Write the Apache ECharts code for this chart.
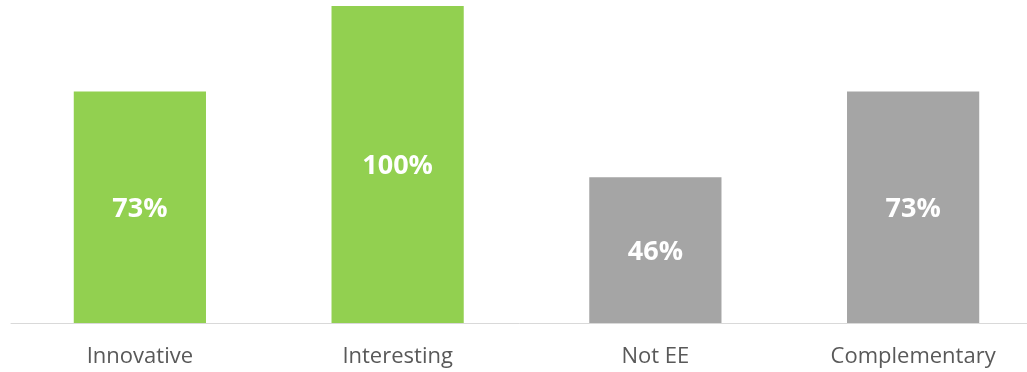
<!DOCTYPE html>
<html>
<head>
<meta charset="utf-8">
<script src="https://cdn.jsdelivr.net/npm/echarts@6/dist/echarts.min.js"></script>
<style>
  html, body { margin: 0; padding: 0; background: #fff; }
  #chart { width: 1027px; height: 372px; }
</style>
</head>
<body>
<div id="chart"></div>
<script>
// Share of responses per attribute (percent)
const categories = ['Innovative', 'Interesting', 'Not EE', 'Complementary'];
const values = [73, 100, 46, 73];
const barColors = ['#92D050', '#92D050', '#A5A5A5', '#A5A5A5'];

const chart = echarts.init(document.getElementById('chart'));
chart.setOption({
  animation: false,
  grid: { left: 11, right: -15, top: 6, bottom: 49, containLabel: false, outerBoundsMode: 'none' },
  xAxis: {
    type: 'category',
    data: categories,
    axisLine: { show: true, lineStyle: { color: '#D9D9D9', width: 1 } },
    axisTick: { show: false },
    axisLabel: {
      color: '#595959',
      fontFamily: 'Open Sans',
      fontSize: 22,
      margin: 23
    }
  },
  yAxis: {
    type: 'value',
    min: 0,
    max: 100,
    show: false,
    splitLine: { show: false }
  },
  series: [{
    type: 'bar',
    barWidth: '51.3%',
    data: values.map((v, i) => ({ value: v, itemStyle: { color: barColors[i] } })),
    label: {
      show: true,
      position: 'inside',
      offset: [0, 2],
      formatter: '{c}%',
      color: '#FFFFFF',
      fontFamily: 'Open Sans',
      fontWeight: 'bold',
      fontSize: 27
    }
  }]
});
</script>
</body>
</html>
